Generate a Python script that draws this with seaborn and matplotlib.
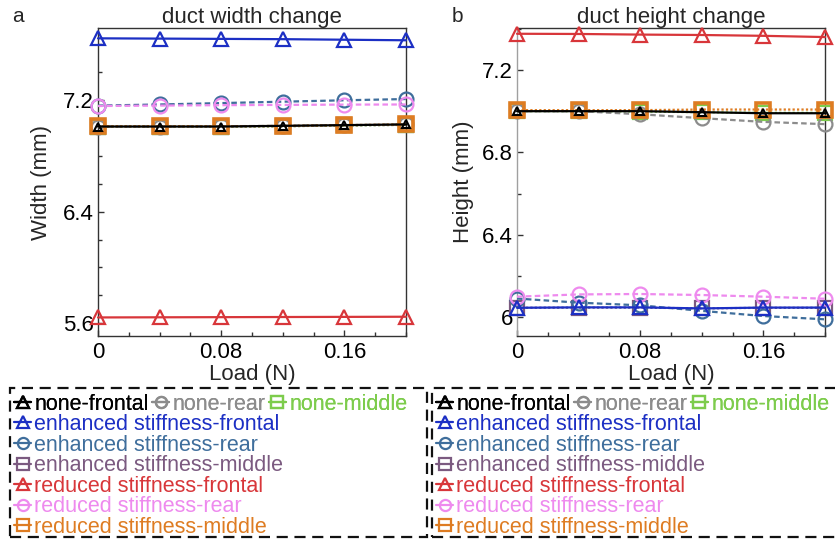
import numpy as np
import pandas as pd
import seaborn as sns
import matplotlib
matplotlib.use("Agg")
import matplotlib.pyplot as plt
from matplotlib.lines import Line2D
from matplotlib.patches import Rectangle
from matplotlib.ticker import MultipleLocator, FuncFormatter

sns.set_theme(style="white")
plt.rcParams['font.family'] = ['Liberation Sans', 'DejaVu Sans']

# ---------------- data ----------------
load = [0, 0.04, 0.08, 0.12, 0.16, 0.20]

series_names = [
    "none-frontal", "none-rear", "none-middle",
    "enhanced stiffness-frontal", "enhanced stiffness-rear", "enhanced stiffness-middle",
    "reduced stiffness-frontal", "reduced stiffness-rear", "reduced stiffness-middle",
]

# duct width (mm)
width_none_frontal = [7.010, 7.010, 7.010, 7.015, 7.020, 7.025]
width_none_rear = [7.010, 7.010, 7.012, 7.015, 7.020, 7.025]
width_none_middle = [7.010, 7.010, 7.010, 7.012, 7.018, 7.022]
width_enh_frontal = [7.642, 7.640, 7.638, 7.636, 7.632, 7.628]
width_enh_rear = [7.160, 7.168, 7.178, 7.188, 7.198, 7.207]
width_enh_middle = [7.010, 7.010, 7.010, 7.012, 7.018, 7.022]
width_red_frontal = [5.642, 5.643, 5.644, 5.645, 5.646, 5.647]
width_red_rear = [7.157, 7.160, 7.163, 7.165, 7.167, 7.168]
width_red_middle = [7.012, 7.012, 7.012, 7.014, 7.020, 7.025]

# duct height (mm)
height_none_frontal = [7.000, 7.000, 7.000, 6.995, 6.990, 6.990]
height_none_rear = [7.000, 7.000, 6.985, 6.966, 6.948, 6.937]
height_none_middle = [7.000, 7.000, 6.998, 6.995, 6.992, 6.992]
height_enh_frontal = [6.045, 6.047, 6.047, 6.042, 6.046, 6.046]
height_enh_rear = [6.090, 6.070, 6.057, 6.030, 6.005, 5.989]
height_enh_middle = [6.045, 6.046, 6.046, 6.042, 6.045, 6.045]
height_red_frontal = [7.376, 7.375, 7.372, 7.370, 7.366, 7.360]
height_red_rear = [6.099, 6.110, 6.112, 6.107, 6.099, 6.089]
height_red_middle = [7.005, 7.005, 7.005, 7.008, 7.008, 7.008]

width_values = [width_none_frontal, width_none_rear, width_none_middle,
                width_enh_frontal, width_enh_rear, width_enh_middle,
                width_red_frontal, width_red_rear, width_red_middle]
height_values = [height_none_frontal, height_none_rear, height_none_middle,
                 height_enh_frontal, height_enh_rear, height_enh_middle,
                 height_red_frontal, height_red_rear, height_red_middle]

# ---------------- styles ----------------
colors = ["#000000", "#8c8c8c", "#7dcc4c",
          "#1c2fc4", "#3f6e9c", "#7b5a80",
          "#d8363a", "#ee8aee", "#de7c22"]
markers = ["^", "o", "s", "^", "o", "s", "^", "o", "s"]
linestyles = ["-", (0, (2.5, 1.5)), (0, (1, 1)),
              "-", (0, (2.5, 1.5)), (0, (1, 1)),
              "-", (0, (2.5, 1.5)), (0, (1, 1))]
msizes = [6, 10, 10, 10, 10, 10, 10, 10, 10]
mews = [1.5, 1.6, 1.6, 1.6, 1.6, 1.6, 1.6, 1.6, 2.6]
draw_order = [5, 2, 1, 8, 0, 4, 7, 3, 6]

FS = 16

fig = plt.figure(figsize=(8.35, 5.39), dpi=100)
W, H = 835, 539


def ax_rect(l, r, t, b):
    return [l / W, 1 - b / H, (r - l) / W, (b - t) / H]


ax_a = fig.add_axes(ax_rect(98, 406, 28, 336))
ax_b = fig.add_axes(ax_rect(517, 825, 28, 336))


def draw_panel(ax, values):
    for i in draw_order:
        df = pd.DataFrame({"Load": load, "val": values[i]})
        sns.lineplot(data=df, x="Load", y="val", ax=ax, color=colors[i],
                     marker=markers[i], linestyle=linestyles[i], linewidth=1.6,
                     markersize=msizes[i], mfc="none", mec=colors[i],
                     mew=mews[i], clip_on=False, legend=False, zorder=3 + draw_order.index(i))


draw_panel(ax_a, width_values)
draw_panel(ax_b, height_values)

fmt = FuncFormatter(lambda v, p: f"{v:g}")
for ax in (ax_a, ax_b):
    ax.set_xlim(0, 0.2)
    ax.xaxis.set_major_locator(MultipleLocator(0.08))
    ax.xaxis.set_minor_locator(MultipleLocator(0.02))
    ax.yaxis.set_minor_locator(MultipleLocator(0.2))
    ax.xaxis.set_major_formatter(fmt)
    ax.yaxis.set_major_formatter(fmt)
    ax.tick_params(axis="both", which="both", direction="in", bottom=True, left=True,
                   top=False, right=False, labelsize=FS, colors="#333333",
                   labelcolor="black")
    ax.tick_params(axis="x", which="major", pad=4)
    ax.tick_params(axis="y", which="major", pad=3)
    ax.tick_params(which="major", length=4, width=1)
    ax.tick_params(which="minor", length=3, width=1)
    ax.set_xlabel("Load (N)", fontsize=FS, labelpad=1)
    for s in ax.spines.values():
        s.set_visible(True)
        s.set_color("#333333")
        s.set_linewidth(1.0)

ax_a.set_ylim(5.509, 7.716)
ax_a.yaxis.set_major_locator(MultipleLocator(0.8))
ax_a.set_ylabel("Width (mm)", fontsize=FS, labelpad=8)
ax_a.set_title("duct width change", fontsize=FS, pad=3)

ax_b.set_ylim(5.908, 7.404)
ax_b.yaxis.set_major_locator(MultipleLocator(0.4))
ax_b.set_ylabel("Height (mm)", fontsize=FS, labelpad=6)
ax_b.set_title("duct height change", fontsize=FS, pad=3)
ax_b.spines["left"].set_color("#a0a0a0")

fig.text(12 / W, 1 - 17 / H, "a", fontsize=FS - 1, ha="left", va="center")
fig.text(452 / W, 1 - 17 / H, "b", fontsize=FS - 1, ha="left", va="center")

# ---------------- legends ----------------
LFS = 15.5


def make_handle(i):
    return Line2D([], [], color=colors[i], marker=markers[i], linestyle="-",
                  linewidth=1.6, markersize=8, mfc="none", mec=colors[i], mew=1.6)


def add_legend(x0, box_l, box_r):
    fig.add_artist(Rectangle((box_l / W, 1 - 537 / H), (box_r - box_l) / W, (537 - 388) / H,
                             transform=fig.transFigure, fill=False, edgecolor="#111111",
                             linewidth=1.6, linestyle=(0, (5, 3)), clip_on=False))
    h1 = [make_handle(i) for i in range(3)]
    leg1 = fig.legend(h1, series_names[:3], loc="upper left",
                      bbox_to_anchor=(x0 / W, 1 - 394 / H), bbox_transform=fig.transFigure,
                      ncol=3, frameon=False, fontsize=LFS, handlelength=0.8,
                      handletextpad=0.15, columnspacing=0.15, borderpad=0,
                      borderaxespad=0, labelcolor="linecolor")
    h2 = [make_handle(i) for i in range(3, 9)]
    leg2 = fig.legend(h2, series_names[3:], loc="upper left",
                      bbox_to_anchor=(x0 / W, 1 - 414 / H), bbox_transform=fig.transFigure,
                      ncol=1, frameon=False, fontsize=LFS, handlelength=0.8,
                      handletextpad=0.15, labelspacing=-0.02, borderpad=0,
                      borderaxespad=0, labelcolor="linecolor")
    fig.add_artist(leg1)


add_legend(14, 10, 427)
add_legend(436, 432, 840)

fig.savefig("out.png", dpi=100)
